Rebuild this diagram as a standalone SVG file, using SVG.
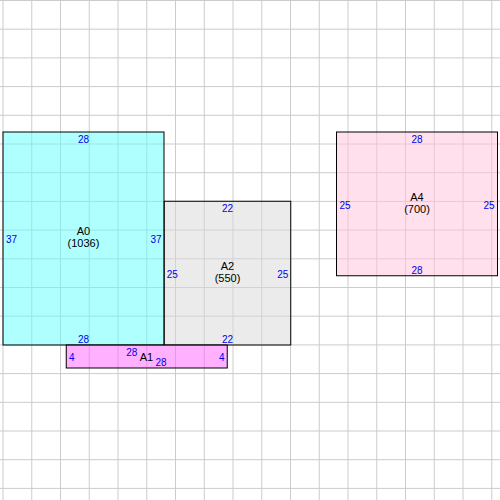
<svg xmlns="http://www.w3.org/2000/svg" width="500" height="500" viewBox="0 0 500 500">
<style>
.grid{stroke:#cccccc;stroke-width:1;fill:none}
.box{stroke:#000;stroke-width:1}
.lbl{font-family:"Liberation Sans",Arial,sans-serif;font-size:11px;fill:#000;text-anchor:middle}
.num{font-family:"Liberation Sans",Arial,sans-serif;font-size:10px;fill:#0000ee}
.m{text-anchor:middle}
.s{text-anchor:start}
.e{text-anchor:end}
</style>
<rect width="500" height="500" fill="#fff"/>
<g id="grid" class="grid">
<path d="M3,0V500M31.75,0V500M60.5,0V500M89.25,0V500M118,0V500M146.75,0V500M175.5,0V500M204.25,0V500M233,0V500M261.75,0V500M290.5,0V500M319.25,0V500M348,0V500M376.75,0V500M405.5,0V500M434.25,0V500M463,0V500M491.75,0V500"/>
<path d="M0,0.5H500M0,29.2H500M0,57.9H500M0,86.6H500M0,115.3H500M0,144H500M0,172.7H500M0,201.4H500M0,230.1H500M0,258.8H500M0,287.5H500M0,316.2H500M0,344.9H500M0,373.6H500M0,402.3H500M0,431H500M0,459.7H500M0,488.4H500"/>
</g>
<g id="connectors"></g>
<g id="A0">
<rect class="box" x="3" y="132" width="161" height="213" fill="rgb(97,255,255)" fill-opacity="0.5"/>
<text class="lbl" x="83.5" y="235">A0</text>
<text class="lbl" x="83.5" y="247">(1036)</text>
<text class="num m" x="83.5" y="143">28</text>
<text class="num m" x="83.5" y="343">28</text>
<text class="num s" x="6" y="243">37</text>
<text class="num e" x="161.5" y="243">37</text>
</g>
<g id="A2">
<rect class="box" x="164.25" y="201.25" width="126.5" height="143.75" fill="rgb(215,215,215)" fill-opacity="0.5"/>
<text class="lbl" x="227.5" y="269.5">A2</text>
<text class="lbl" x="227.5" y="281.5">(550)</text>
<text class="num m" x="227.5" y="212">22</text>
<text class="num m" x="227.5" y="343">22</text>
<text class="num s" x="166.75" y="277.5">25</text>
<text class="num e" x="288.25" y="277.5">25</text>
</g>
<g id="A1">
<rect class="box" x="66.25" y="345" width="161" height="23" fill="rgb(255,97,255)" fill-opacity="0.5"/>
<text class="lbl" x="146.5" y="361">A1</text>
<text class="num m" x="131.7" y="356">28</text>
<text class="num m" x="161" y="366">28</text>
<text class="num s" x="69" y="361">4</text>
<text class="num e" x="224.5" y="361">4</text>
</g>
<g id="A4">
<rect class="box" x="336.5" y="132" width="161" height="143.75" fill="rgb(255,193,217)" fill-opacity="0.5"/>
<text class="lbl" x="417" y="200.5">A4</text>
<text class="lbl" x="417" y="212.5">(700)</text>
<text class="num m" x="417" y="143">28</text>
<text class="num m" x="417" y="273.5">28</text>
<text class="num s" x="339.5" y="208.5">25</text>
<text class="num e" x="494.5" y="208.5">25</text>
</g>
</svg>
